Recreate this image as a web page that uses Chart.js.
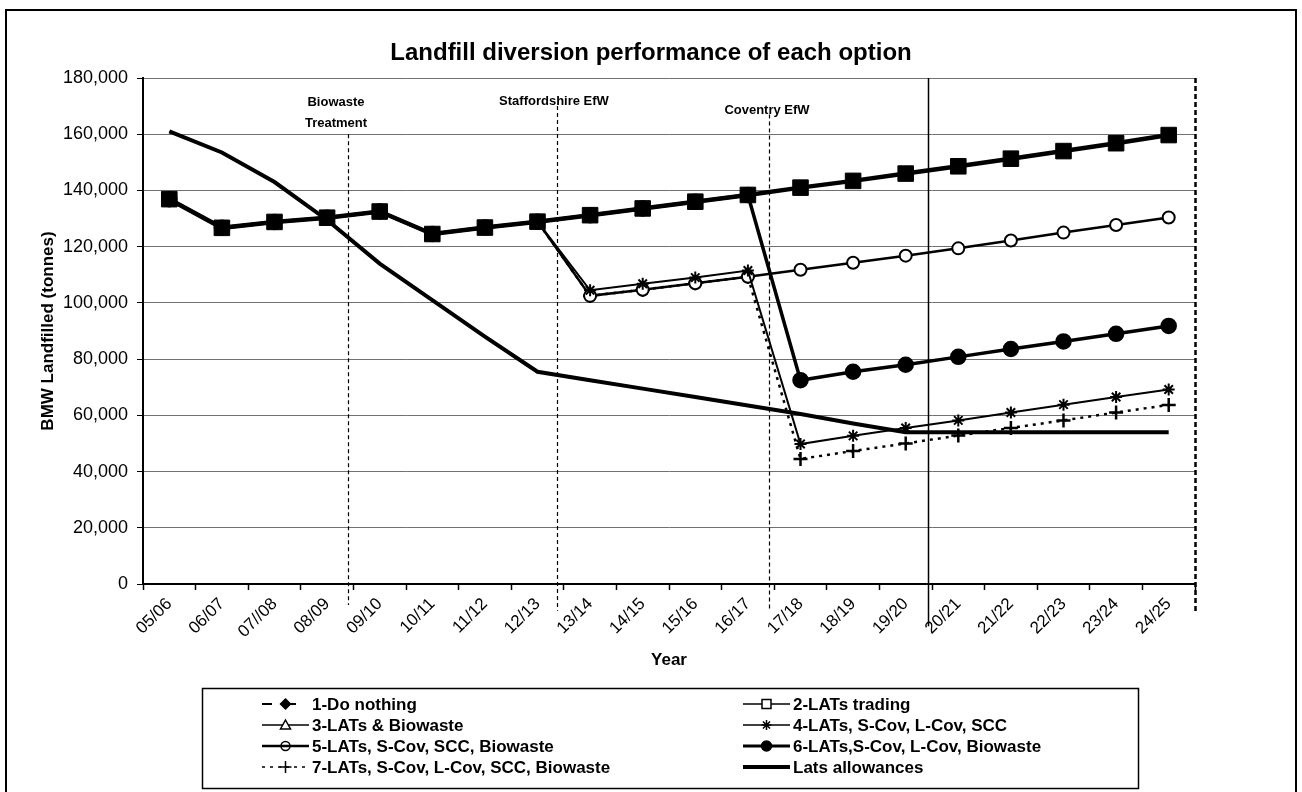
<!DOCTYPE html>
<html lang="en">
<head>
    <meta charset="UTF-8">
    <title>Landfill diversion performance of each option</title>
    <style>
        body {
            margin: 0;
            background: #fff;
            font-family: 'Liberation Sans', Arial, sans-serif;
        }

        .frame {
            position: absolute;
            left: 5px;
            top: 9px;
            width: 1292px;
            height: 820px;
            border: 2px solid #000;
            box-sizing: border-box;
        }

        .chart-box {
            position: absolute;
            left: 0;
            top: 0;
            width: 1302px;
            height: 792px;
        }
    </style>
</head>
<body>
    <div class="frame"></div>
    <div class="chart-box">
        <canvas id="diversionChart"></canvas>
    </div>
    <script src="https://cdn.jsdelivr.net/npm/chart.js"></script>
    <script>
        // data (tonnes)
        const years = ['05/06', '06/07', '07//08', '08/09', '09/10', '10/11', '11/12', '12/13', '13/14', '14/15',
            '15/16', '16/17', '17/18', '18/19', '19/20', '20/21', '21/22', '22/23', '23/24', '24/25'];

        const doNothing = [136900, 126700, 128800, 130300, 132500, 124500, 126800, 128900, 131200, 133600,
            136000, 138400, 141000, 143400, 146000, 148600, 151300, 154000, 156800, 159700];
        const latsTrading = [136900, 126700, 128800, 130300, 132500, 124500, 126800, 128900, 131200, 133600,
            136000, 138400, 141000, 143400, 146000, 148600, 151300, 154000, 156800, 159700];
        const latsBiowaste = [136900, 126700, 128800, 130300, 132500, 124500, 126800, 128900, 131200, 133600,
            136000, 138400, 141000, 143400, 146000, 148600, 151300, 154000, 156800, 159700];
        const latsScovLcovScc = [136900, 126700, 128800, 130300, 132500, 124500, 126800, 128900, 104500, 106800,
            109000, 111500, 49800, 52700, 55500, 58200, 61000, 63800, 66500, 69200];
        const latsScovSccBio = [136900, 126700, 128800, 130300, 132500, 124500, 126800, 128900, 102500, 104700,
            107000, 109300, 111800, 114300, 116800, 119400, 122200, 125000, 127700, 130400];
        const latsScovLcovBio = [136900, 126700, 128800, 130300, 132500, 124500, 126800, 128900, 131200, 133600,
            136000, 138400, 72500, 75500, 78000, 80800, 83600, 86300, 89000, 91800];
        const latsAll = [136900, 126700, 128800, 130300, 132500, 124500, 126800, 128900, 102500, 104700,
            107000, 109300, 44500, 47300, 50000, 52800, 55500, 58200, 61000, 63700];
        const latsAllowances = [161000, 153500, 143000, 129500, 114000, 101000, 88000, 75500, 72500, 69500,
            66500, 63500, 60500, 57100, 54000, 54000, 54000, 54000, 54000, 54000];

        const yTicks = [0, 20000, 40000, 60000, 80000, 100000, 120000, 140000, 160000, 180000];

        // vertical marker lines (x in category index, y range in tonnes)
        const milestones = [
            { at: 3.4, top: 160000, bottom: -7500, dash: [4, 3], width: 1.2, text: ['Biowaste', 'Treatment'], textX: 336, textY: [102, 123] },
            { at: 7.38, top: 170000, bottom: -9500, dash: [4, 3], width: 1.2, text: ['Staffordshire EfW'], textX: 554, textY: [101] },
            { at: 11.4, top: 167000, bottom: -9500, dash: [4, 3], width: 1.2, text: ['Coventry EfW'], textX: 767, textY: [110] },
            { at: 14.42, top: 180000, bottom: -15000, dash: [], width: 1.5, text: [] },
            { at: 19.5, top: 180000, bottom: -10000, dash: [5, 3], width: 2.5, text: [] }
        ];

        const FONT = "'Liberation Sans', Arial, sans-serif";
        Chart.defaults.font.family = FONT;
        Chart.defaults.color = '#000';

        function drawSymbol(ctx, style, x, y, r, fill, lw) {
            ctx.save();
            ctx.setLineDash([]);
            ctx.lineWidth = lw;
            ctx.strokeStyle = '#000';
            ctx.fillStyle = fill;
            ctx.beginPath();
            if (style === 'rectRot') {
                ctx.moveTo(x, y - r); ctx.lineTo(x + r, y); ctx.lineTo(x, y + r); ctx.lineTo(x - r, y);
                ctx.closePath(); ctx.fill(); ctx.stroke();
            } else if (style === 'rect') {
                ctx.rect(x - r, y - r, 2 * r, 2 * r); ctx.fill(); ctx.stroke();
            } else if (style === 'triangle') {
                ctx.moveTo(x, y - r); ctx.lineTo(x + r, y + r * 0.8); ctx.lineTo(x - r, y + r * 0.8);
                ctx.closePath(); ctx.fill(); ctx.stroke();
            } else if (style === 'circle') {
                ctx.arc(x, y, r, 0, Math.PI * 2);
                if (fill) ctx.fill();
                ctx.stroke();
            } else if (style === 'star') {
                for (let a = 0; a < 4; a++) {
                    const ang = a * Math.PI / 4;
                    ctx.moveTo(x - Math.cos(ang) * r, y - Math.sin(ang) * r);
                    ctx.lineTo(x + Math.cos(ang) * r, y + Math.sin(ang) * r);
                }
                ctx.stroke();
            } else if (style === 'cross') {
                ctx.moveTo(x - r, y); ctx.lineTo(x + r, y);
                ctx.moveTo(x, y - r); ctx.lineTo(x, y + r);
                ctx.stroke();
            }
            ctx.restore();
        }

        const decorPlugin = {
            id: 'decor',
            beforeDatasetsDraw(chart) {
                const ctx = chart.ctx;
                const xs = chart.scales.x, ys = chart.scales.y;
                ctx.save();
                ctx.strokeStyle = '#000';
                milestones.forEach(m => {
                    const px = Math.round(xs.getPixelForValue(m.at)) + 0.5;
                    ctx.lineWidth = m.width;
                    ctx.setLineDash(m.dash);
                    ctx.beginPath();
                    ctx.moveTo(px, ys.getPixelForValue(m.top));
                    ctx.lineTo(px, ys.getPixelForValue(m.bottom));
                    ctx.stroke();
                });
                ctx.setLineDash([]);
                ctx.font = 'bold 13px ' + FONT;
                ctx.fillStyle = '#000';
                ctx.textAlign = 'center';
                ctx.textBaseline = 'middle';
                milestones.forEach(m => {
                    m.text.forEach((t, i) => ctx.fillText(t, m.textX, m.textY[i]));
                });
                ctx.restore();
            },
            afterDraw(chart) {
                const ctx = chart.ctx;
                ctx.save();
                // title
                ctx.font = 'bold 24px ' + FONT;
                ctx.fillStyle = '#000';
                ctx.textAlign = 'center';
                ctx.textBaseline = 'middle';
                ctx.fillText('Landfill diversion performance of each option', 651, 53);

                // legend box
                const box = { left: 202, top: 688, right: 1138, bottom: 788 };
                ctx.lineWidth = 1.5;
                ctx.strokeStyle = '#000';
                ctx.strokeRect(box.left + 0.5, box.top + 0.5, box.right - box.left, box.bottom - box.top);

                const rowY = [704, 725, 746, 767];
                const colX = [262, 743];
                const sampleW = 47;
                ctx.font = 'bold 17px ' + FONT;
                ctx.textAlign = 'left';
                chart.data.datasets.forEach((ds, i) => {
                    const x0 = colX[i % 2], y = rowY[Math.floor(i / 2)];
                    const lg = ds.legend;
                    ctx.save();
                    ctx.lineWidth = lg.line;
                    ctx.setLineDash(lg.dash);
                    ctx.beginPath();
                    ctx.moveTo(x0, y);
                    ctx.lineTo(x0 + sampleW, y);
                    ctx.stroke();
                    ctx.restore();
                    if (lg.marker) {
                        drawSymbol(ctx, lg.marker, x0 + sampleW / 2, y, lg.size, lg.fill, 1.5);
                    }
                    ctx.fillStyle = '#000';
                    ctx.fillText(ds.label, x0 + sampleW + 3, y + 1);
                });
                ctx.restore();
            }
        };

        const ctx = document.getElementById('diversionChart').getContext('2d');
        new Chart(ctx, {
            type: 'line',
            data: {
                labels: years,
                datasets: [
                    {
                        label: '1-Do nothing', data: doNothing,
                        borderColor: '#000', backgroundColor: '#000', borderWidth: 2, borderDash: [8, 5],
                        pointStyle: 'rectRot', pointRadius: 6, pointBackgroundColor: '#000', pointBorderColor: '#000',
                        order: 5,
                        legend: { line: 2, dash: [10, 14], marker: 'rectRot', size: 5, fill: '#000' }
                    },
                    {
                        label: '2-LATs trading', data: latsTrading,
                        borderColor: '#000', backgroundColor: '#000', borderWidth: 4.5,
                        pointStyle: 'rect', pointRadius: 11, pointBackgroundColor: '#000', pointBorderColor: '#000', pointBorderWidth: 1,
                        order: -5,
                        legend: { line: 1.5, dash: [], marker: 'rect', size: 4.5, fill: '#fff' }
                    },
                    {
                        label: '3-LATs & Biowaste', data: latsBiowaste,
                        borderColor: '#000', backgroundColor: '#fff', borderWidth: 2,
                        pointStyle: 'triangle', pointRadius: 6, pointBackgroundColor: '#fff', pointBorderColor: '#000', pointBorderWidth: 1.5,
                        order: 5,
                        legend: { line: 1.5, dash: [], marker: 'triangle', size: 5, fill: '#fff' }
                    },
                    {
                        label: '4-LATs, S-Cov, L-Cov, SCC', data: latsScovLcovScc,
                        borderColor: '#000', backgroundColor: '#000', borderWidth: 2,
                        pointStyle: 'star', pointRadius: 6, pointBorderColor: '#000', pointBorderWidth: 2,
                        order: 2,
                        legend: { line: 1.5, dash: [], marker: 'star', size: 5, fill: '#000' }
                    },
                    {
                        label: '5-LATs, S-Cov, SCC, Biowaste', data: latsScovSccBio,
                        borderColor: '#000', backgroundColor: '#fff', borderWidth: 2.5,
                        pointStyle: 'circle', pointRadius: 6, pointBackgroundColor: '#fff', pointBorderColor: '#000', pointBorderWidth: 2,
                        order: 2,
                        legend: { line: 2.5, dash: [], marker: 'circle', size: 4.5, fill: null }
                    },
                    {
                        label: '6-LATs,S-Cov, L-Cov, Biowaste', data: latsScovLcovBio,
                        borderColor: '#000', backgroundColor: '#000', borderWidth: 3.5,
                        pointStyle: 'circle', pointRadius: 6.5, pointBackgroundColor: '#000', pointBorderColor: '#000',
                        order: 1,
                        legend: { line: 3, dash: [], marker: 'circle', size: 5, fill: '#000' }
                    },
                    {
                        label: '7-LATs, S-Cov, L-Cov, SCC, Biowaste', data: latsAll,
                        borderColor: '#000', backgroundColor: '#000', borderWidth: 2.5, borderDash: [3, 5],
                        pointStyle: 'cross', pointRadius: 7, pointBorderColor: '#000', pointBorderWidth: 2.5,
                        order: 2,
                        legend: { line: 1.5, dash: [3, 5], marker: 'cross', size: 6, fill: '#000' }
                    },
                    {
                        label: 'Lats allowances', data: latsAllowances,
                        borderColor: '#000', backgroundColor: '#000', borderWidth: 4,
                        pointRadius: 0,
                        order: 3,
                        legend: { line: 4, dash: [], marker: null }
                    }
                ]
            },
            options: {
                responsive: true,
                maintainAspectRatio: false,
                animation: false,
                layout: {
                    padding: { left: 28, right: 107, top: 78, bottom: 117 }
                },
                elements: {
                    line: { tension: 0 }
                },
                plugins: {
                    legend: { display: false },
                    tooltip: { enabled: false }
                },
                scales: {
                    x: {
                        type: 'category',
                        offset: true,
                        grid: { drawOnChartArea: false, offset: true, tickLength: 6, tickColor: '#000', tickWidth: 1.5 },
                        border: { color: '#000', width: 2 },
                        ticks: { autoSkip: false, minRotation: 45, maxRotation: 45, padding: 4, font: { size: 17 } },
                        title: { display: true, text: 'Year', font: { size: 17, weight: 'bold' }, padding: { top: 0, bottom: 4 } },
                        afterFit: s => { s.height = 91; }
                    },
                    y: {
                        min: 0,
                        max: 180000,
                        afterBuildTicks: s => { s.ticks = yTicks.map(v => ({ value: v })); },
                        grid: { color: '#707070', lineWidth: 1, tickLength: 6, tickColor: '#000' },
                        border: { color: '#000', width: 2 },
                        ticks: { padding: 9, font: { size: 18 }, callback: v => v.toLocaleString('en-US') },
                        title: { display: true, text: 'BMW Landfilled (tonnes)', font: { size: 17, weight: 'bold' }, padding: { top: 10, bottom: 4 } },
                        afterFit: s => { s.width = 115; }
                    }
                }
            },
            plugins: [decorPlugin]
        });
    </script>
</body>
</html>
